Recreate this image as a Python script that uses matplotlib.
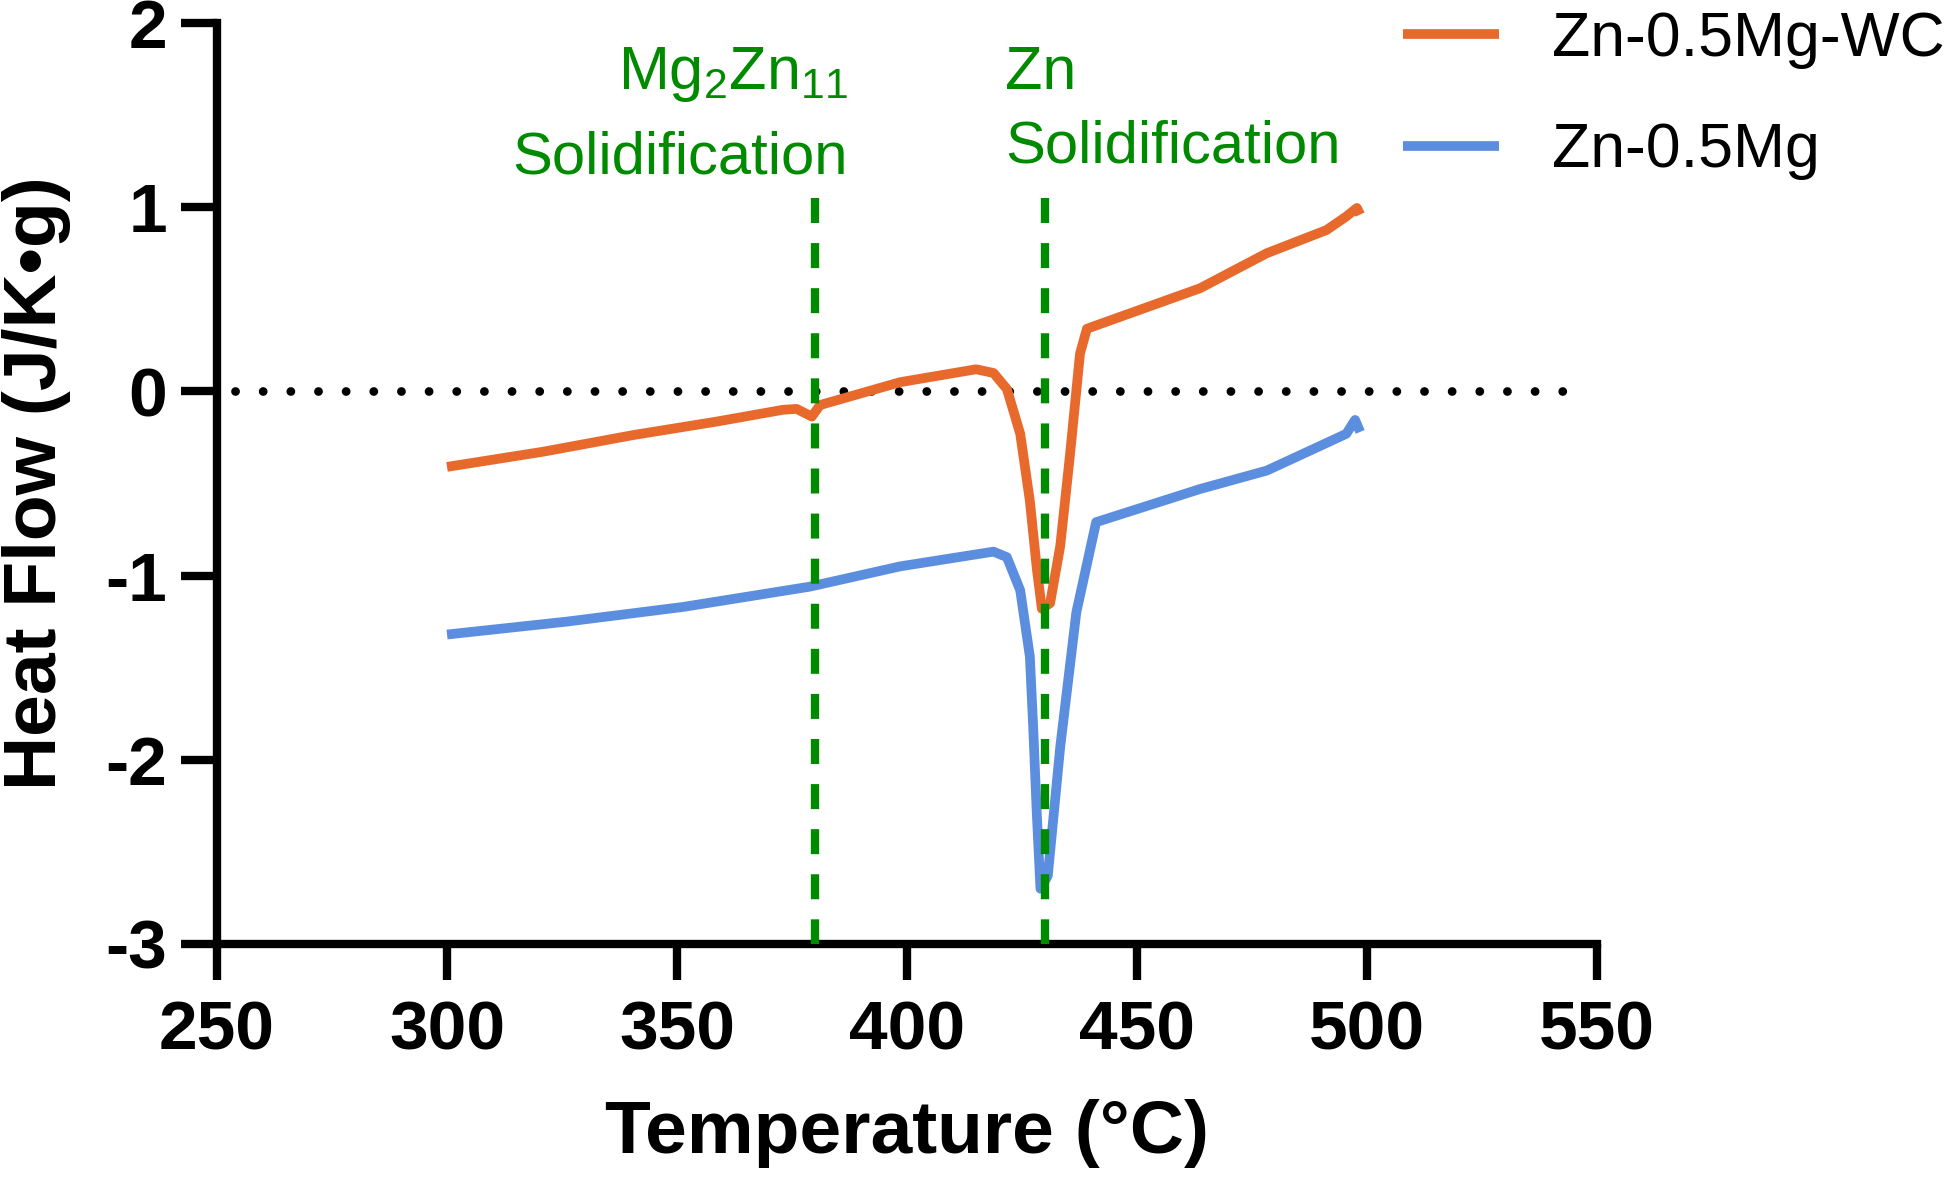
import matplotlib
matplotlib.use("Agg")
import matplotlib.pyplot as plt

# ---- data ----
wc_temp = [300, 321, 340.5, 358.6, 373, 376, 379.3, 381.1, 398.5, 415, 418.8, 421.7,
           424.6, 426.7, 428.2, 429.3, 431.1, 433.3, 435.4, 437.6, 439.1, 463.7,
           478.2, 491.2, 495.5, 497.8, 498.5]
wc_flow = [-0.41, -0.327, -0.237, -0.164, -0.10, -0.095, -0.137, -0.074, 0.05, 0.12, 0.10, 0.013,
           -0.23, -0.595, -0.96, -1.18, -1.15, -0.84, -0.35, 0.205, 0.34, 0.56,
           0.75, 0.876, 0.95, 0.996, 0.96]

mg_temp = [300, 326, 351.4, 378.9, 398.5, 418.8, 421.7, 424.6, 426.7, 427.4, 428.2, 429.0,
           430.6, 433.3, 436.8, 441.1, 463.7, 478.2, 491.2, 495.5, 497.4, 498.5]
mg_flow = [-1.32, -1.25, -1.17, -1.06, -0.95, -0.87, -0.90, -1.08, -1.44, -1.81, -2.29, -2.70,
           -2.63, -1.93, -1.20, -0.71, -0.53, -0.43, -0.28, -0.23, -0.155, -0.22]

series_labels = ["Zn-0.5Mg-WC", "Zn-0.5Mg"]
transition_temps = [380, 430]
transition_top = 1.05
zero_line_span = [254, 545]
x_ticks = [250, 300, 350, 400, 450, 500, 550]
y_ticks = [-3, -2, -1, 0, 1, 2]

ORANGE = "#E8692C"
BLUE = "#5B8EDF"
GREEN = "#008A00"

plt.rcParams["font.family"] = ["Liberation Sans", "DejaVu Sans"]
plt.rcParams["axes.unicode_minus"] = False
plt.rcParams["mathtext.fontset"] = "custom"
plt.rcParams["mathtext.rm"] = "Liberation Sans"
plt.rcParams["mathtext.it"] = "Liberation Sans:italic"
plt.rcParams["mathtext.bf"] = "Liberation Sans:bold"
plt.rcParams["mathtext.default"] = "regular"

fig = plt.figure(figsize=(19.5, 11.85), dpi=100)
ax = fig.add_axes([0.1113, 0.2034, 0.819 - 0.1113, 0.9806 - 0.2034])

# zero dotted line
ax.plot(zero_line_span, [0, 0], color="black", lw=6.3,
        linestyle=(0, (0.01, 3.15)), dash_capstyle="round", zorder=1)

# vertical dashed transition lines (drawn from the top down)
for t in transition_temps:
    ax.plot([t, t], [transition_top, -3], color=GREEN, lw=6,
            linestyle=(0, (3.0, 2.41)), dash_capstyle="butt", zorder=3, clip_on=False)

ax.plot(wc_temp, wc_flow, color=ORANGE, lw=7, label=series_labels[0],
        solid_joinstyle="round", solid_capstyle="butt", zorder=2)
ax.plot(mg_temp, mg_flow, color=BLUE, lw=7, label=series_labels[1],
        solid_joinstyle="round", solid_capstyle="butt", zorder=2)

# annotations
ax.text(387.2, 1.64, "Mg$_2$Zn$_{11}$", color=GREEN, fontsize=44, ha="right", va="baseline")
ax.text(387.2, 1.185, "Solidification", color=GREEN, fontsize=43, ha="right", va="baseline")
ax.text(421.3, 1.64, "Zn", color=GREEN, fontsize=44, ha="left", va="baseline")
ax.text(421.3, 1.24, "Solidification", color=GREEN, fontsize=43, ha="left", va="baseline")

ax.set_xlim(250, 550)
ax.set_ylim(-3, 2)
ax.set_xticks(x_ticks)
ax.set_yticks(y_ticks)
ax.set_xticklabels([str(v) for v in x_ticks])
ax.set_yticklabels([str(v) for v in y_ticks])

for s in ["top", "right"]:
    ax.spines[s].set_visible(False)
for s in ["left", "bottom"]:
    ax.spines[s].set_linewidth(6)
    ax.spines[s].set_capstyle("projecting")

ax.tick_params(axis="both", direction="out", length=26, width=6, labelsize=50)
ax.tick_params(axis="y", pad=10)
ax.tick_params(axis="x", pad=14)
for lab in ax.get_xticklabels() + ax.get_yticklabels():
    lab.set_fontweight("bold")

ax.set_xlabel("Temperature (°C)", fontsize=54, fontweight="bold")
ax.set_ylabel("Heat Flow (J/K•g)", fontsize=54, fontweight="bold")
ax.xaxis.set_label_coords(0.5, -0.168)
ax.yaxis.set_label_coords(-0.106, 0.5)

leg = ax.legend(loc="upper left", bbox_to_anchor=(0.7195, 0.9916), bbox_transform=fig.transFigure,
                frameon=False, fontsize=45, handlelength=1.54, handletextpad=0.85,
                borderpad=0, borderaxespad=0, labelspacing=0.84)
for line in leg.get_lines():
    line.set_linewidth(7)

fig.savefig("out.png", dpi=100)
